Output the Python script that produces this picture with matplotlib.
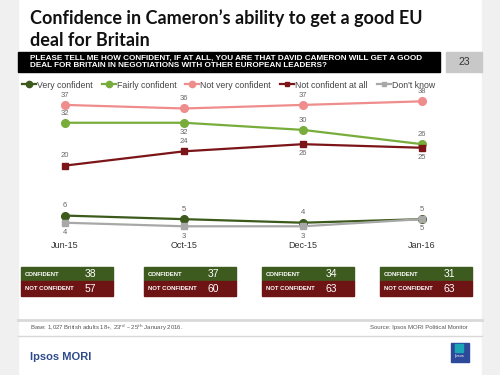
import matplotlib
matplotlib.use("Agg")
import matplotlib.pyplot as plt
from matplotlib.patches import Rectangle
from matplotlib.lines import Line2D

plt.rcParams['font.family'] = ['Liberation Sans', 'DejaVu Sans']

months = ["Jun-15", "Oct-15", "Dec-15", "Jan-16"]
very_confident = [6, 5, 4, 5]
fairly_confident = [32, 32, 30, 26]
not_very_confident = [37, 36, 37, 38]
not_confident_at_all = [20, 24, 26, 25]
dont_know = [4, 3, 3, 5]
confident_totals = [38, 37, 34, 31]
not_confident_totals = [57, 60, 63, 63]

series = [
    ("Very confident", very_confident, "#3b5a1c", "o", [1, 1, 1, 1]),
    ("Fairly confident", fairly_confident, "#78ad3c", "o", [1, -1, 1, 1]),
    ("Not very confident", not_very_confident, "#ef8c8c", "o", [1, 1, 1, 1]),
    ("Not confident at all", not_confident_at_all, "#7b1518", "s", [1, 1, -1, -1]),
    ("Don't know", dont_know, "#a8a8a8", "s", [-1, -1, -1, -1]),
]

W, H = 500, 375
fig = plt.figure(figsize=(5, 3.75), dpi=100)
fig.patch.set_facecolor("white")

def fx(x):
    return x / W

def fy(y):
    return 1 - y / H

# side grey strips
fig.patches.append(Rectangle((0, 0), fx(18), 1, transform=fig.transFigure, color="#f0f0f0", zorder=0))
fig.patches.append(Rectangle((fx(482), 0), fx(18), 1, transform=fig.transFigure, color="#f0f0f0", zorder=0))

# title
fig.text(fx(30), fy(29), "Confidence in Cameron\u2019s ability to get a good EU\ndeal for Britain",
         fontsize=13, fontweight="bold", family=["Lato", "DejaVu Sans"], va="center", ha="left",
         linespacing=1.3, color="#111111")

# question bar
fig.patches.append(Rectangle((fx(18), fy(72)), fx(422), 20 / H, transform=fig.transFigure, color="black"))
fig.text(fx(30), fy(62), "PLEASE TELL ME HOW CONFIDENT, IF AT ALL, YOU ARE THAT DAVID CAMERON WILL GET A GOOD\nDEAL FOR BRITAIN IN NEGOTIATIONS WITH OTHER EUROPEAN LEADERS?",
         fontsize=5.85, fontweight="bold", color="white", va="center", ha="left", linespacing=0.92)
fig.patches.append(Rectangle((fx(446), fy(72)), fx(36), 20 / H, transform=fig.transFigure, color="#c8c8c8"))
fig.text(fx(464), fy(62), "23", fontsize=7.5, color="#333333", va="center", ha="center")

# main axes
x0, x3 = 65, 422
unit = (x3 - x0) / 3
left_px = x0 - 0.3 * unit
right_px = x3 + 0.3 * unit
y0_px, y40_px = 237, 237 - 40 * 3.57
ax = fig.add_axes([fx(left_px), fy(y0_px), (right_px - left_px) / W, (y0_px - y40_px) / H])
ax.set_xlim(-0.3, 3.3)
ax.set_ylim(0, 40)
ax.axis("off")
xs = list(range(len(months)))
handles = []
for name, vals, col, mk, pos in series:
    ms = 5.5 if mk == "o" else 4.5
    ax.plot(xs, vals, color=col, lw=1.6, marker=mk, ms=ms, clip_on=False, zorder=3)
    handles.append(Line2D([0], [0], color=col, lw=1.6, marker=mk, ms=ms - 1))
    for x, v, p in zip(xs, vals, pos):
        ax.annotate(str(v), (x, v), xytext=(0, 7 * p), textcoords="offset points",
                    ha="center", va="center", fontsize=5.5, color="#666666")
for x, m in zip(xs, months):
    ax.annotate(m, (x, 0), xytext=(0, -6), textcoords="offset points",
                ha="center", va="center", fontsize=6.5, color="#333333")

# legend
leg = fig.legend(handles, [s[0] for s in series], loc="center left",
                 bbox_to_anchor=(fx(22), fy(85)), ncol=5, frameon=False, fontsize=6.3,
                 handlelength=1.6, handletextpad=0.1, columnspacing=1.05, borderaxespad=0,
                 borderpad=0)
for t in leg.get_texts():
    t.set_color("#444444")

# summary boxes
box_x = [21, 144, 262, 380]
for bx, c, nc in zip(box_x, confident_totals, not_confident_totals):
    fig.patches.append(Rectangle((fx(bx), fy(281)), fx(92), 14.5 / H, transform=fig.transFigure, color="#3e5b1f"))
    fig.patches.append(Rectangle((fx(bx), fy(296)), fx(92), 15 / H, transform=fig.transFigure, color="#6e1415"))
    fig.text(fx(bx + 4), fy(274), "CONFIDENT", fontsize=4.3, fontweight="bold", color="white", va="center")
    fig.text(fx(bx + 4), fy(289), "NOT CONFIDENT", fontsize=4.3, fontweight="bold", color="white", va="center")
    fig.text(fx(bx + 69), fy(274), str(c), fontsize=7.5, color="white", va="center", ha="center")
    fig.text(fx(bx + 69), fy(289), str(nc), fontsize=7.5, color="white", va="center", ha="center")

# footer
fig.lines.append(Line2D([fx(18), fx(482)], [fy(320), fy(320)], transform=fig.transFigure, color="#d9d9d9", lw=2))
fig.lines.append(Line2D([fx(18), fx(482)], [fy(336), fy(336)], transform=fig.transFigure, color="#d9d9d9", lw=1))
fig.text(fx(30), fy(328), "Base: 1,027 British adults 18+, 23$^{\\rm rd}$ \u2013 25$^{\\rm th}$ January 2016.",
         fontsize=4.3, color="#555555", va="center")
fig.text(fx(468), fy(328), "Source: Ipsos MORI Political Monitor", fontsize=4.3, color="#555555",
         va="center", ha="right")
fig.text(fx(30), fy(357), "Ipsos MORI", fontsize=8, fontweight="bold", color="#2d4a8a", va="center")
fig.patches.append(Rectangle((fx(451), fy(362)), fx(18), 19 / H, transform=fig.transFigure, color="#2d4a9a"))
fig.patches.append(Rectangle((fx(455), fy(352)), fx(8), 8 / H, transform=fig.transFigure, color="#1aa6b7"))
fig.text(fx(460), fy(356), "Ipsos", fontsize=3, color="white", va="center", ha="center")

fig.savefig("out.png", dpi=100, facecolor=fig.get_facecolor())
